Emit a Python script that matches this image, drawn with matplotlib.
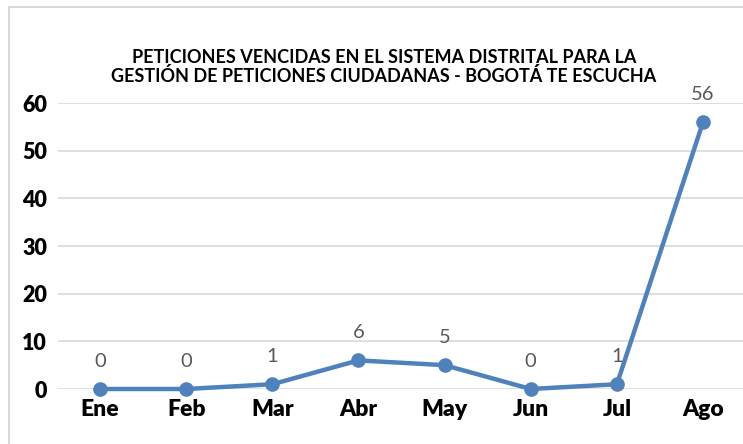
import matplotlib.pyplot as plt
from matplotlib.lines import Line2D

meses = ["Ene", "Feb", "Mar", "Abr", "May", "Jun", "Jul", "Ago"]
vencidas = [0, 0, 1, 6, 5, 0, 1, 56]
titulo = ("PETICIONES VENCIDAS EN EL SISTEMA DISTRITAL PARA LA\n"
          "GESTIÓN DE PETICIONES CIUDADANAS - BOGOTÁ TE ESCUCHA")

plt.rcParams['font.family'] = ['Lato', 'DejaVu Sans']

W, H = 743, 444
fig = plt.figure(figsize=(W / 100, H / 100), dpi=100)
ax = fig.add_axes([58 / W, 55 / H, (W - 58) / W, (389 - 103) / H])

x = list(range(len(meses)))
ax.plot(x, vencidas, color="#4f81bd", lw=3.2, marker="o", ms=9.5,
        clip_on=False, zorder=3)
for xi, v in zip(x, vencidas):
    ax.annotate(str(v), (xi, v), xytext=(0, 20), textcoords="offset points",
                ha="center", va="center", fontsize=14.5, color="#595959")

ax.set_ylim(0, 60)
ax.set_yticks(range(0, 61, 10))
ax.set_xlim(-0.4876, 7.464)
ax.set_xticks(x)
ax.set_xticklabels(meses)
ax.grid(axis="y", color="#d9d9d9", lw=1.2)
ax.set_axisbelow(True)
for s in ax.spines.values():
    s.set_visible(False)
ax.tick_params(axis="y", length=0, labelsize=15.5, pad=8)
ax.tick_params(axis="x", length=0, labelsize=16.5, pad=7)
for lab in ax.get_xticklabels() + ax.get_yticklabels():
    lab.set_fontweight("heavy")

fig.text(384 / W, 1 - 67 / H, titulo, ha="center", va="center",
         fontsize=13, fontweight="bold", linespacing=1.03)

# marco del grafico
fig.add_artist(Line2D([9 / W, 9 / W], [0, 1 - 7 / H], color="#d9d9d9", lw=1.5))
fig.add_artist(Line2D([9 / W, 1], [1 - 7 / H, 1 - 7 / H], color="#d9d9d9", lw=1.5))

fig.savefig("out.png", dpi=100)
